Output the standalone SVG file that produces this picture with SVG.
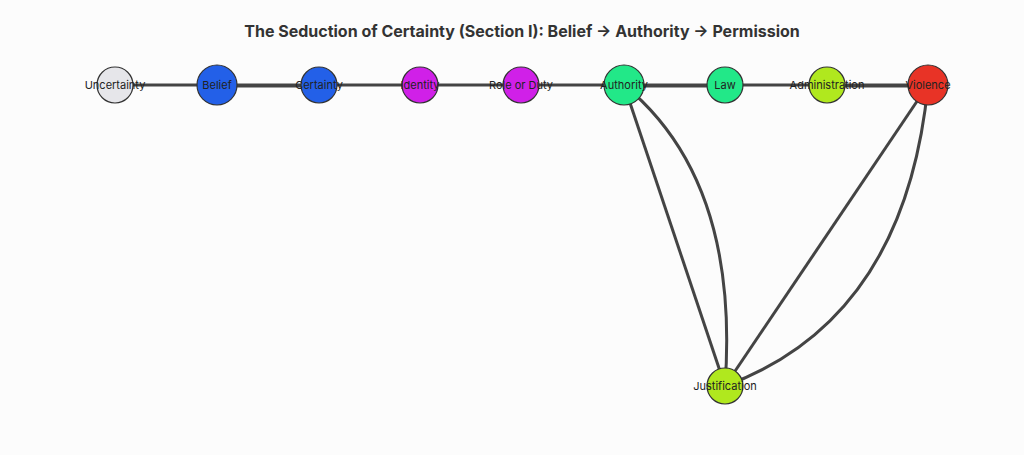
<svg xmlns="http://www.w3.org/2000/svg" width="1024" height="455" viewBox="0 0 1024 455">
<style>
.e{stroke:#444;stroke-width:3;fill:none}
.n circle{stroke:#333;stroke-width:1.2}
.n text{font-family:Inter,"Liberation Sans",sans-serif;font-size:11px;fill:#222;text-anchor:middle;dominant-baseline:central}
</style>
<rect width="1024" height="455" fill="#fcfcfc"/>
<text x="522" y="37" font-family="Inter,'Liberation Sans',sans-serif" font-size="16" font-weight="bold" fill="#333" text-anchor="middle">The Seduction of Certainty (Section I): Belief → Authority → Permission</text>
<g id="edges">
<line class="e" x1="115" y1="85" x2="928" y2="85"/>
<line class="e" x1="217" y1="86" x2="319" y2="86"/>
<line class="e" x1="624" y1="86" x2="725" y2="86"/>
<line class="e" x1="827" y1="86" x2="928" y2="86"/>
<line class="e" x1="624" y1="85" x2="725" y2="386"/>
<path class="e" d="M624,85 Q740,180 725,386"/>
<line class="e" x1="928" y1="85" x2="725" y2="386"/>
<path class="e" d="M928,85 Q905,320 725,386"/>
</g>
<g id="n-uncertainty" class="n"><circle cx="115" cy="85" r="18" fill="#e6e6ea"/><text x="115" y="85">Uncertainty</text></g>
<g id="n-belief" class="n"><circle cx="217" cy="85" r="20" fill="#2360e8"/><text x="217" y="85">Belief</text></g>
<g id="n-certainty" class="n"><circle cx="319" cy="85" r="18" fill="#2360e8"/><text x="319" y="85">Certainty</text></g>
<g id="n-identity" class="n"><circle cx="420" cy="85" r="18" fill="#d020e8"/><text x="420" y="85">Identity</text></g>
<g id="n-role" class="n"><circle cx="521" cy="85" r="18" fill="#d020e8"/><text x="521" y="85">Role or Duty</text></g>
<g id="n-authority" class="n"><circle cx="624" cy="85" r="20" fill="#22e888"/><text x="624" y="85">Authority</text></g>
<g id="n-law" class="n"><circle cx="725" cy="85" r="18" fill="#22e888"/><text x="725" y="85">Law</text></g>
<g id="n-admin" class="n"><circle cx="827" cy="85" r="18" fill="#b0e81e"/><text x="827" y="85">Administration</text></g>
<g id="n-violence" class="n"><circle cx="928" cy="85" r="20" fill="#e83326"/><text x="928" y="85">Violence</text></g>
<g id="n-justification" class="n"><circle cx="725" cy="386" r="18" fill="#b0e81e"/><text x="725" y="386">Justification</text></g>
</svg>
